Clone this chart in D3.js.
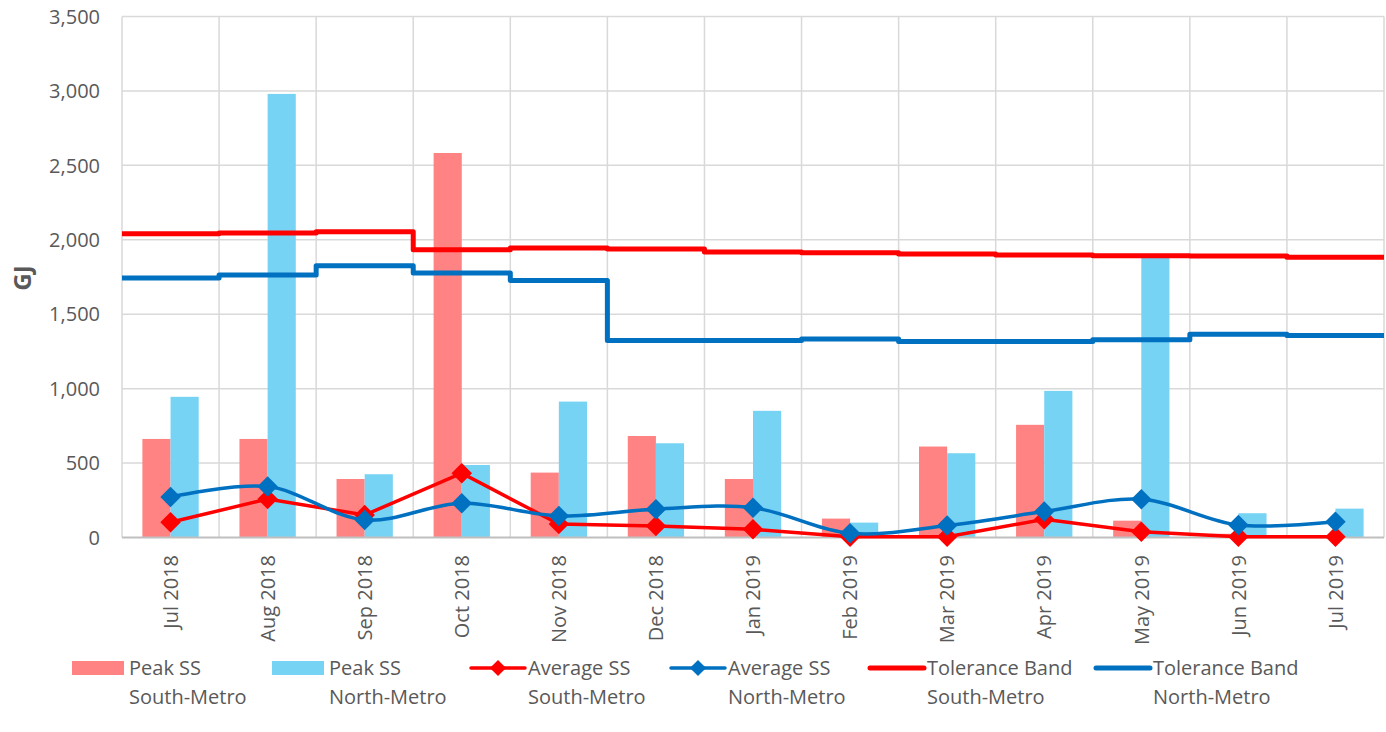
<html>
  <head>
    <style>
      body { margin: 0; background: #fff; }
      text { font-family: "Open Sans", sans-serif; fill: #595959; }
    </style>
  </head>
  <body>
  <div id="chart"></div>

  <script src="https://d3js.org/d3.v7.js"></script>
  <script>

    // data
    var months = ["Jul 2018", "Aug 2018", "Sep 2018", "Oct 2018", "Nov 2018", "Dec 2018",
                  "Jan 2019", "Feb 2019", "Mar 2019", "Apr 2019", "May 2019", "Jun 2019", "Jul 2019"]
    var peakSouth = [662, 662, 393, 2583, 436, 682, 393, 127, 611, 757, 113, 25, 3]
    var peakNorth = [945, 2980, 425, 487, 913, 633, 851, 100, 566, 985, 1880, 163, 194]
    var avgSouth  = [102, 259, 151, 432, 90, 77, 55, 5, 5, 122, 39, 5, 5]
    var avgNorth  = [272, 342, 118, 230, 145, 190, 200, 28, 80, 174, 257, 84, 106]
    var tolSouth  = [2041, 2046, 2054, 1933, 1945, 1938, 1918, 1913, 1904, 1898, 1893, 1891, 1882]
    var tolNorth  = [1743, 1763, 1826, 1777, 1727, 1324, 1324, 1333, 1317, 1317, 1328, 1366, 1357]
    var yTicks = [0, 500, 1000, 1500, 2000, 2500, 3000, 3500]

    var legendItems = [
      {kind: "bar",  color: "#FF8383", lines: ["Peak SS", "South-Metro"]},
      {kind: "bar",  color: "#76D3F4", lines: ["Peak SS", "North-Metro"]},
      {kind: "mark", color: "#FF0000", lines: ["Average SS", "South-Metro"]},
      {kind: "mark", color: "#0070C0", lines: ["Average SS", "North-Metro"]},
      {kind: "line", color: "#FF0000", lines: ["Tolerance Band", "South-Metro"]},
      {kind: "line", color: "#0070C0", lines: ["Tolerance Band", "North-Metro"]}
    ]
    var legendX = [72, 272, 471, 671, 870, 1096]

    var width = 1386, height = 732
    var plotLeft = 122, plotRight = 1384, plotTop = 16.5, plotBottom = 537.5

    var svg = d3.select("#chart").append("svg")
      .attr("width", width)
      .attr("height", height)

    var x = d3.scaleBand().domain(months).range([plotLeft, plotRight])
      .paddingInner(0.42).paddingOuter(0.21)
    var xs = d3.scaleBand().domain(["s", "n"]).range([0, x.bandwidth()])
    var edge = d3.scaleLinear().domain([0, months.length]).range([plotLeft, plotRight])
    var y = d3.scaleLinear().domain([0, 3500]).range([plotBottom, plotTop])

    // gridlines
    svg.append("g").selectAll("line").data(yTicks.slice(1)).enter().append("line")
      .attr("x1", plotLeft).attr("x2", plotRight)
      .attr("y1", d => y(d)).attr("y2", d => y(d))
      .attr("stroke", "#D9D9D9").attr("stroke-width", 1.5)
    svg.append("g").selectAll("line").data(d3.range(months.length + 1)).enter().append("line")
      .attr("x1", d => edge(d)).attr("x2", d => edge(d))
      .attr("y1", plotTop).attr("y2", plotBottom)
      .attr("stroke", "#D9D9D9").attr("stroke-width", 1.5)

    // y axis labels
    svg.append("g").selectAll("text").data(yTicks).enter().append("text")
      .attr("x", 100).attr("y", d => y(d))
      .attr("dy", "0.36em")
      .attr("text-anchor", "end")
      .style("font-size", "20px")
      .text(d => d3.format(",")(d))

    svg.append("text")
      .attr("transform", "translate(31,278) rotate(-90)")
      .attr("text-anchor", "middle")
      .style("font-size", "24px").style("font-weight", "bold")
      .text("GJ")

    // bars
    var bars = svg.append("g")
    bars.selectAll(".s").data(months).enter().append("rect")
      .attr("x", d => x(d) + xs("s")).attr("width", xs.bandwidth())
      .attr("y", (d, i) => y(peakSouth[i])).attr("height", (d, i) => y(0) - y(peakSouth[i]))
      .attr("fill", "#FF8383")
    bars.selectAll(".n").data(months).enter().append("rect")
      .attr("x", d => x(d) + xs("n")).attr("width", xs.bandwidth())
      .attr("y", (d, i) => y(peakNorth[i])).attr("height", (d, i) => y(0) - y(peakNorth[i]))
      .attr("fill", "#76D3F4")

    // baseline
    svg.append("line")
      .attr("x1", plotLeft).attr("x2", plotRight).attr("y1", y(0)).attr("y2", y(0))
      .attr("stroke", "#BFBFBF").attr("stroke-width", 2)

    // tolerance bands as steps across each month
    var step = d3.line().curve(d3.curveStepAfter)
      .x(d => edge(d[0])).y(d => y(d[1]))
    function stepPts(vals) {
      var pts = vals.map((v, i) => [i, v])
      pts.push([vals.length, vals[vals.length - 1]])
      return pts
    }
    svg.append("path").datum(stepPts(tolSouth)).attr("d", step)
      .attr("fill", "none").attr("stroke", "#FF0000").attr("stroke-width", 5)
      .attr("stroke-linejoin", "round")
    svg.append("path").datum(stepPts(tolNorth)).attr("d", step)
      .attr("fill", "none").attr("stroke", "#0070C0").attr("stroke-width", 5)
      .attr("stroke-linejoin", "round")

    // average lines
    var diamond = d3.symbol().type(d3.symbolSquare).size(210)
    function avgLine(vals, color, curve) {
      var line = d3.line().curve(curve)
        .x((d, i) => x(months[i]) + x.bandwidth() / 2).y(d => y(d))
      svg.append("path").datum(vals).attr("d", line)
        .attr("fill", "none").attr("stroke", color).attr("stroke-width", 3.5)
      svg.append("g").selectAll("path").data(vals).enter().append("path")
        .attr("d", diamond)
        .attr("transform", (d, i) => "translate(" + (x(months[i]) + x.bandwidth() / 2) + "," + y(d) + ") rotate(45)")
        .attr("fill", color)
    }
    avgLine(avgSouth, "#FF0000", d3.curveLinear)
    avgLine(avgNorth, "#0070C0", d3.curveCatmullRom)

    // x labels
    svg.append("g").selectAll("text").data(months).enter().append("text")
      .attr("transform", d => "translate(" + (x(d) + x.bandwidth() / 2) + ",555) rotate(-90)")
      .attr("dy", "0.36em")
      .attr("text-anchor", "end")
      .style("font-size", "20px")
      .text(d => d)

    // legend
    var leg = svg.append("g").selectAll("g").data(legendItems).enter().append("g")
      .attr("transform", (d, i) => "translate(" + legendX[i] + ",0)")
    leg.each(function(d) {
      var g = d3.select(this)
      if (d.kind === "bar") {
        g.append("rect").attr("x", 0).attr("y", 661).attr("width", 52).attr("height", 14).attr("fill", d.color)
      } else {
        g.append("line").attr("x1", 0).attr("x2", 54).attr("y1", 668).attr("y2", 668)
          .attr("stroke", d.color).attr("stroke-width", d.kind === "line" ? 5 : 3.5)
          .attr("stroke-linecap", "round")
        if (d.kind === "mark") {
          g.append("path").attr("d", d3.symbol().type(d3.symbolSquare).size(130))
            .attr("transform", "translate(27,668) rotate(45)").attr("fill", d.color)
        }
      }
      g.selectAll("text").data(d.lines).enter().append("text")
        .attr("x", 57).attr("y", (t, j) => 675 + j * 29)
        .style("font-size", "20px")
        .text(t => t)
    })

  </script>
  </body>
</html>
